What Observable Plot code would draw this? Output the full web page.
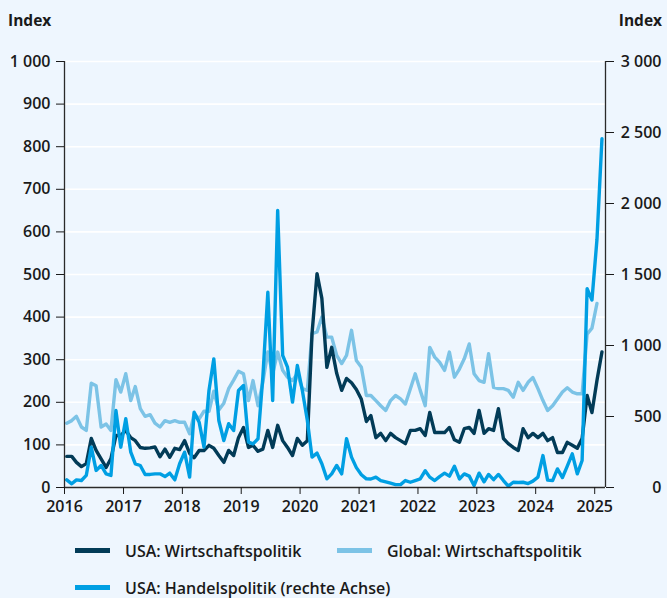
<!DOCTYPE html>
<html>
<head>
<meta charset="utf-8">
<script src="https://cdn.jsdelivr.net/npm/d3@7"></script>
<script src="https://cdn.jsdelivr.net/npm/@observablehq/plot@0.6"></script>
<style>
  html, body { margin: 0; padding: 0; background: #eef6fe; }
  body { width: 667px; height: 598px; overflow: hidden; font-family: "Open Sans", sans-serif; font-weight: 600; color: #1a1a1a; }
  .hdr { height: 40px; line-height: 40px; display: flex; justify-content: space-between; padding: 0 5px 0 8px; font-size: 15.5px; font-weight: 700; }
  .legend { font-size: 16px; font-weight: 600; }
  .row { display: flex; align-items: center; height: 37px; padding-left: 75px; }
  .item { display: flex; align-items: center; }
  .sw { width: 35px; height: 5px; margin-right: 15px; }
</style>
</head>
<body>
<div class="hdr"><span>Index</span><span>Index</span></div>
<div id="chart"></div>
<div class="legend" id="legend"></div>
<script>
// Monthly series, Jan 2016 onwards
const usaWirtschaft = [
  73,73,59,49,56,115,87,67,47,68,
  122,122,134,117,110,94,92,93,95,72,
  90,71,92,89,110,80,70,87,87,99,
  92,75,59,87,75,117,141,94,99,85,
  90,134,94,146,110,94,75,115,99,110,
  361,502,444,282,329,268,228,256,246,230,
  207,155,169,117,127,110,127,117,110,103,
  134,134,138,122,176,129,129,129,141,112,
  106,138,141,127,181,127,138,134,185,115,
  103,94,87,138,117,127,117,127,110,117,
  82,82,106,99,92,115,216,176,251,318
];
const globalWirtschaft = [
  151,157,167,142,134,245,239,142,149,134,
  253,224,267,204,237,185,167,171,151,142,
  157,153,157,153,153,126,173,161,179,179,
  226,182,198,232,252,273,267,204,251,192,
  247,318,267,318,275,259,251,267,232,228,
  361,365,400,353,353,310,291,310,369,298,
  282,216,216,204,192,181,204,216,208,196,
  232,267,228,192,329,306,294,275,318,259,
  278,302,337,267,251,247,314,235,232,232,
  228,212,247,228,247,258,232,204,181,192,
  208,224,234,224,220,220,360,374,432
];
const usaHandel = [
  54,26,54,49,85,284,120,155,96,85,
  542,284,484,249,167,155,92,92,96,96,
  77,101,54,167,249,73,530,460,284,683,
  906,472,331,449,401,683,718,320,307,343,
  777,1375,613,1951,930,847,601,859,683,472,
  214,242,167,61,96,155,96,343,214,140,
  90,61,60,73,49,40,30,20,20,49,
  37,49,60,118,73,49,77,101,80,150,
  60,96,80,14,101,40,92,55,92,49,
  10,37,35,37,28,45,73,225,52,49,
  131,70,150,237,96,190,1400,1320,1745,2456
];
const seriesNames = ["USA: Wirtschaftspolitik", "Global: Wirtschaftspolitik", "USA: Handelspolitik (rechte Achse)"];
const seriesColors = ["#023b57", "#7cc3e6", "#009fe3"];
const leftTicks = [0,100,200,300,400,500,600,700,800,900,1000];
const rightTicks = [0,500,1000,1500,2000,2500,3000];
const yearTicks = [2016,2017,2018,2019,2020,2021,2022,2023,2024,2025];

const monthDate = i => new Date(Date.UTC(2016, i, 15));
const toRows = arr => arr.map((v, i) => ({date: monthDate(i), value: v}));
const fmt = v => d3.format(",")(Math.round(v)).replace(/,/g, " ");

const dUS = toRows(usaWirtschaft);
const dGL = toRows(globalWirtschaft);
const dTR = usaHandel.map((v, i) => ({date: monthDate(i), value: v / 3}));

const xDomain = [new Date(Date.UTC(2016,0,1)), new Date(Date.UTC(2025,2,9))];

const plot = Plot.plot({
  width: 667,
  height: 475,
  marginTop: 21,
  marginBottom: 28,
  marginLeft: 64,
  marginRight: 62,
  style: {fontFamily: "Open Sans, sans-serif", fontSize: "16px", fontWeight: 600, background: "#eef6fe", color: "#1a1a1a", overflow: "visible"},
  x: {type: "utc", domain: xDomain},
  y: {domain: [0, 1000]},
  marks: [
    Plot.gridY(leftTicks, {stroke: "white", strokeOpacity: 1, strokeWidth: 1.6}),
    Plot.lineY(dGL, {x: "date", y: "value", stroke: seriesColors[1], strokeWidth: 3.4}),
    Plot.lineY(dUS, {x: "date", y: "value", stroke: seriesColors[0], strokeWidth: 3.4}),
    Plot.lineY(dTR, {x: "date", y: "value", stroke: seriesColors[2], strokeWidth: 3.4}),
    Plot.ruleX(xDomain, {stroke: "#2a2a2a", strokeWidth: 1.3}),
    Plot.ruleY([0], {stroke: "#2a2a2a", strokeWidth: 1.3}),
    Plot.axisY(leftTicks, {anchor: "left", tickSize: 8, tickPadding: 6, tickFormat: fmt, label: null}),
    Plot.axisY(rightTicks.map(d => d / 3), {anchor: "right", tickSize: 8, tickPadding: 48, textAnchor: "end", tickFormat: d => fmt(d * 3), label: null}),
    Plot.axisX(yearTicks.map(y => new Date(Date.UTC(y,0,1))), {anchor: "bottom", tickSize: 7, tickPadding: 6, tickFormat: d => String(d.getUTCFullYear()), label: null})
  ]
});
document.getElementById("chart").appendChild(plot);

const legend = document.getElementById("legend");
const rows = [[0, 1], [2]];
rows.forEach(r => {
  const row = document.createElement("div");
  row.className = "row";
  r.forEach((k, j) => {
    const it = document.createElement("div");
    it.className = "item";
    if (j === 0 && r.length > 1) it.style.width = "262px";
    const sw = document.createElement("div");
    sw.className = "sw";
    sw.style.background = seriesColors[k];
    const tx = document.createElement("span");
    tx.textContent = seriesNames[k];
    it.appendChild(sw); it.appendChild(tx);
    row.appendChild(it);
  });
  legend.appendChild(row);
});
legend.style.marginTop = "17px";
</script>
</body>
</html>
